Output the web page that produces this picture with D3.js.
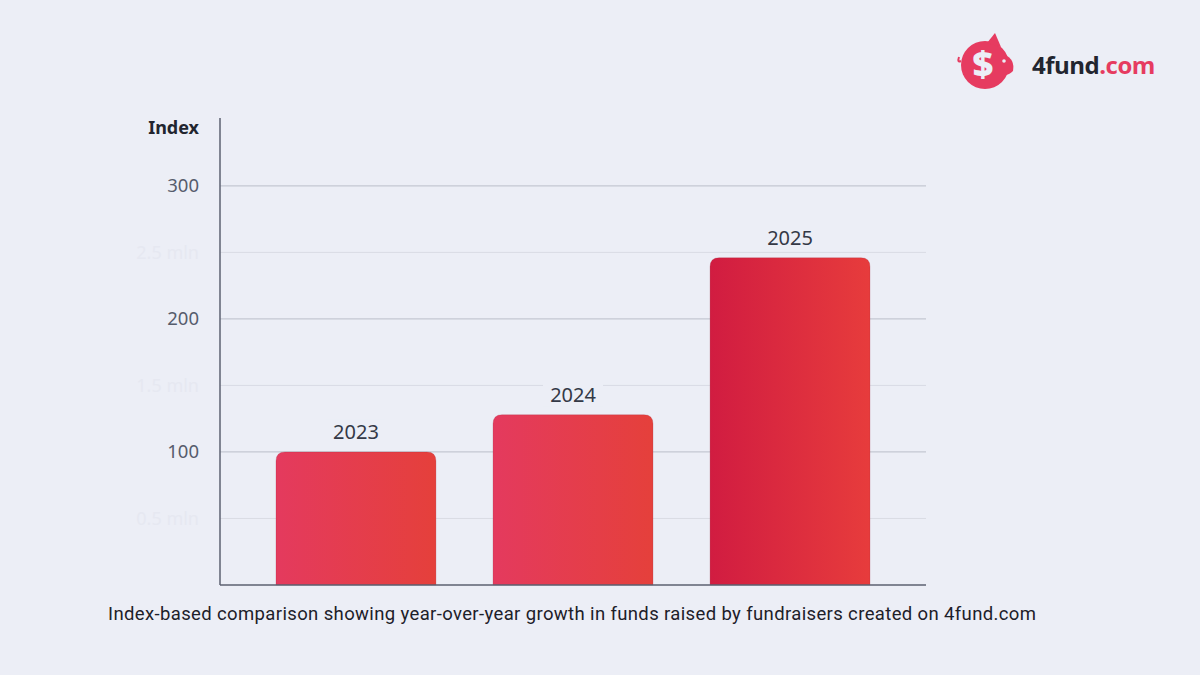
<!DOCTYPE html>
<html>
<head>
<meta charset="utf-8">
<script src="https://cdn.jsdelivr.net/npm/d3@7"></script>
<style>
  html, body { margin: 0; padding: 0; background: #eceef6; }
  svg { display: block; }
</style>
</head>
<body>
<div id="wrapper"></div>
<script>
// data
const years = ["2023", "2024", "2025"]
const indexValues = [100, 128, 246]
const majorTicks = [100, 200, 300]
const minorTicks = [50, 150, 250]
const minorLabels = ["0.5 mln", "1.5 mln", "2.5 mln"]
const caption = "Index-based comparison showing year-over-year growth in funds raised by fundraisers created on 4fund.com"

const width = 1200
let dimensions = {
    width: width,
    height: 675,
    margin: {
        top: 118,
        right: 274,
        bottom: 90,
        left: 220,
    },
}
dimensions.boundedWidth = dimensions.width
    - dimensions.margin.left
    - dimensions.margin.right
dimensions.boundedHeight = dimensions.height
    - dimensions.margin.top
    - dimensions.margin.bottom

const svg = d3.select("#wrapper")
    .append("svg")
    .attr("width", dimensions.width)
    .attr("height", dimensions.height)

svg.append("rect")
    .attr("width", dimensions.width)
    .attr("height", dimensions.height)
    .attr("fill", "#eceef6")

const defs = svg.append("defs")
const grads = [
    ["#e43a5e", "#e5403b"],
    ["#e43a5e", "#e5403b"],
    ["#d11c41", "#e73c3c"],
]
grads.forEach((g, i) => {
    const lg = defs.append("linearGradient")
        .attr("id", "bar" + i)
        .attr("x1", 0).attr("x2", 1).attr("y1", 0).attr("y2", 0)
    lg.append("stop").attr("offset", "0%").attr("stop-color", g[0])
    lg.append("stop").attr("offset", "100%").attr("stop-color", g[1])
})

const chart = svg.append("g")
    .attr("transform", `translate(${dimensions.margin.left}, ${dimensions.margin.top})`)

const yScale = d3.scaleLinear()
    .domain([0, 351])
    .range([dimensions.boundedHeight, 0])

const xScale = d3.scaleBand()
    .domain(years)
    .range([0, dimensions.boundedWidth])
    .paddingInner(0.263)
    .paddingOuter(0.258)

// gridlines
chart.append("g")
    .selectAll("line")
    .data(minorTicks)
    .enter()
    .append("line")
    .attr("x1", 0)
    .attr("x2", dimensions.boundedWidth)
    .attr("y1", d => yScale(d))
    .attr("y2", d => yScale(d))
    .attr("stroke", "#d9dbe4")
    .attr("stroke-width", 1)

chart.append("g")
    .selectAll("line")
    .data(majorTicks)
    .enter()
    .append("line")
    .attr("x1", 0)
    .attr("x2", dimensions.boundedWidth)
    .attr("y1", d => yScale(d))
    .attr("y2", d => yScale(d))
    .attr("stroke", "#c4c7d2")
    .attr("stroke-width", 1.3)

// y tick labels
const yAxis = d3.axisLeft(yScale)
    .tickValues(majorTicks)
    .tickSize(0)
    .tickPadding(21)
const yAxisG = chart.append("g")
    .call(yAxis)
yAxisG.select(".domain").remove()
yAxisG.selectAll("text")
    .attr("font-family", "'Noto Sans', sans-serif")
    .attr("font-size", 18.5)
    .attr("fill", "#565c6c")

// ghost labels
chart.append("g")
    .selectAll("text")
    .data(minorTicks)
    .enter()
    .append("text")
    .attr("x", -21)
    .attr("y", d => yScale(d))
    .attr("dy", "0.35em")
    .attr("text-anchor", "end")
    .attr("font-family", "'Noto Sans', sans-serif")
    .attr("font-size", 18)
    .attr("fill", "#e6e8f1")
    .text((d, i) => minorLabels[i])

chart.append("text")
    .attr("x", -21)
    .attr("y", 10)
    .attr("dy", "0.35em")
    .attr("text-anchor", "end")
    .attr("font-family", "'Noto Sans', sans-serif")
    .attr("font-weight", 700)
    .attr("font-size", 18)
    .attr("fill", "#22252f")
    .text("Index")

// bars with rounded top corners
const r = 9
const barPath = (d, i) => {
    const x0 = xScale(years[i])
    const x1 = x0 + xScale.bandwidth()
    const y0 = yScale(d)
    const yb = yScale(0)
    return `M${x0},${yb} V${y0 + r} Q${x0},${y0} ${x0 + r},${y0} H${x1 - r} Q${x1},${y0} ${x1},${y0 + r} V${yb} Z`
}

chart.append("g")
    .selectAll("path")
    .data(indexValues)
    .enter()
    .append("path")
    .attr("d", barPath)
    .attr("fill", (d, i) => `url(#bar${i})`)
    .attr("stroke", "rgba(150,30,50,0.25)")
    .attr("stroke-width", 0.8)

// bar labels with background halo
const labels = chart.append("g")
    .selectAll("g")
    .data(indexValues)
    .enter()
    .append("g")
    .attr("transform", (d, i) => `translate(${xScale(years[i]) + xScale.bandwidth() / 2}, ${yScale(d) - 20})`)

labels.append("rect")
    .attr("x", -30)
    .attr("y", -12)
    .attr("width", 60)
    .attr("height", 24)
    .attr("fill", "#eceef6")

labels.append("text")
    .attr("text-anchor", "middle")
    .attr("dy", "0.35em")
    .attr("font-family", "'Noto Sans', sans-serif")
    .attr("font-size", 20)
    .attr("fill", "#343946")
    .text((d, i) => years[i])

// axis lines
chart.append("line")
    .attr("x1", 0).attr("x2", 0)
    .attr("y1", 0).attr("y2", dimensions.boundedHeight)
    .attr("stroke", "#5d6170")
    .attr("stroke-width", 1.5)
chart.append("line")
    .attr("x1", 0).attr("x2", dimensions.boundedWidth)
    .attr("y1", dimensions.boundedHeight).attr("y2", dimensions.boundedHeight)
    .attr("stroke", "#5d6170")
    .attr("stroke-width", 1.5)

// caption
svg.append("text")
    .attr("x", 108)
    .attr("y", 620)
    .attr("font-family", "Roboto, sans-serif")
    .attr("font-size", 18.5)
    .attr("fill", "#1d2029")
    .attr("textLength", 928)
    .text(caption)

// logo
const logo = svg.append("g").attr("transform", "translate(985, 65)")
logo.append("circle").attr("r", 24).attr("fill", "#e63b60")
logo.append("path")
    .attr("d", "M2,-22 L10,-32 L16,-18 Z")
    .attr("fill", "#e63b60")
logo.append("path")
    .attr("d", "M20,-10 Q30,-6 28,6 Q24,10 20,10 Z")
    .attr("fill", "#e63b60")
logo.append("circle").attr("cx", 19).attr("cy", -4).attr("r", 1.8).attr("fill", "#eceef6")
logo.append("path")
    .attr("d", "M-24,-4 Q-28,-2 -26,-8")
    .attr("fill", "none")
    .attr("stroke", "#e63b60")
    .attr("stroke-width", 2)
logo.append("text")
    .attr("x", -2)
    .attr("y", 12)
    .attr("text-anchor", "middle")
    .attr("font-family", "'Open Sans', sans-serif")
    .attr("font-weight", 800)
    .attr("font-size", 36)
    .attr("fill", "#eceef6")
    .text("$")
const logoText = svg.append("text")
    .attr("x", 1032)
    .attr("y", 74)
    .attr("font-family", "'Open Sans', sans-serif")
    .attr("font-weight", 700)
    .attr("font-size", 24)
    .attr("letter-spacing", -0.5)
logoText.append("tspan").attr("fill", "#22252f").text("4fund")
logoText.append("tspan").attr("fill", "#e63b60").text(".com")
</script>
</body>
</html>
